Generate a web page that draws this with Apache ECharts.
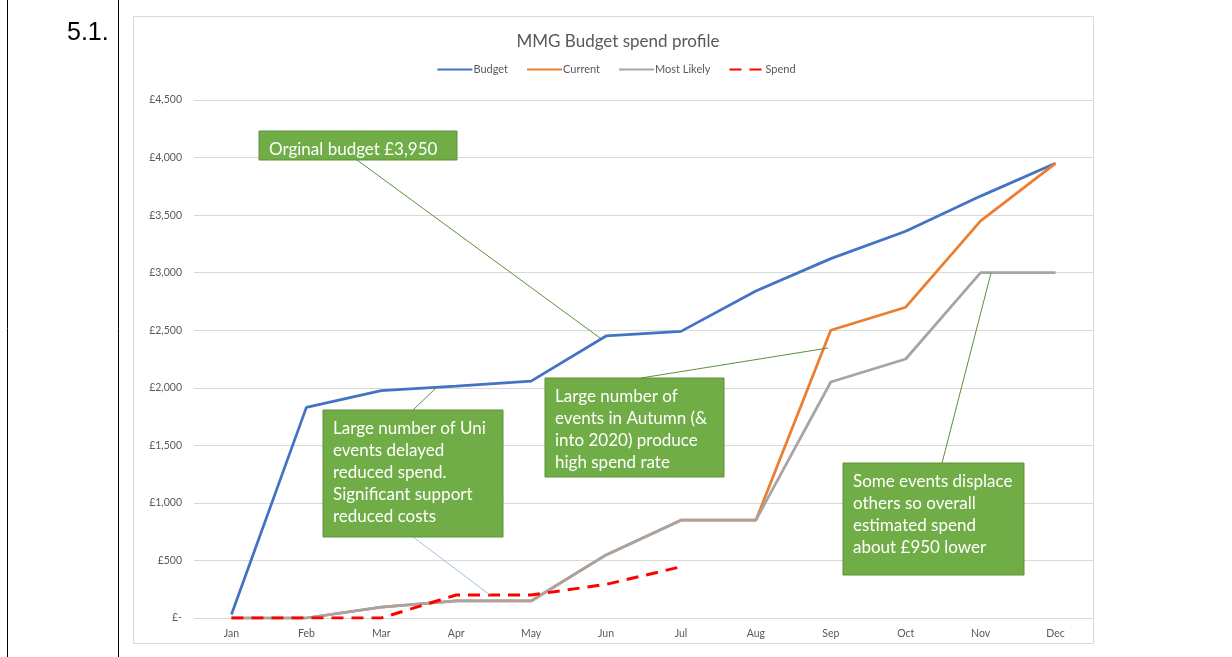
<!DOCTYPE html>
<html><head><meta charset="utf-8">
<script src="https://cdn.jsdelivr.net/npm/echarts@6/dist/echarts.min.js"></script>
<style>html,body{margin:0;padding:0;background:#fff}#c{width:1232px;height:657px}</style>
</head><body><div id="c"></div>
<script>
const months = ['Jan','Feb','Mar','Apr','May','Jun','Jul','Aug','Sep','Oct','Nov','Dec'];
const budget = [30, 1830, 1975, 2015, 2058, 2450, 2490, 2840, 3122, 3360, 3665, 3950];
const current = [0, 0, 95, 148, 148, 548, 850, 850, 2500, 2700, 3450, 3950];
const mostLikely = [0, 0, 95, 148, 148, 548, 850, 850, 2050, 2250, 3000, 3000];
const spend = [0, 0, 0, 200, 200, 292, 445, null, null, null, null, null];
const yTicks = { min: 0, max: 4500, interval: 500 };

const FONT = 'Lato, "Open Sans", sans-serif';
const GREEN = '#70AD47';

function box(x, y, w, h, lines) {
  return [
    { type: 'rect', shape: { x: x, y: y, width: w, height: h }, style: { fill: GREEN, stroke: '#5E8F3A', lineWidth: 1 }, z: 100 },
    { type: 'text', x: x + 10, y: y + 8, z: 101,
      style: { text: lines.join('\n'), fill: '#fff', font: '17px ' + FONT, lineHeight: 22 } }
  ];
}
function leader(x1, y1, x2, y2, color) {
  return { type: 'line', z: 99, shape: { x1: x1, y1: y1, x2: x2, y2: y2 }, style: { stroke: color || '#5E8F3A', lineWidth: 1 } };
}

const chart = echarts.init(document.getElementById('c'), null, { renderer: 'canvas' });
chart.setOption({
  animation: false,
  backgroundColor: '#fff',
  title: { text: 'MMG Budget spend profile', left: 613, textAlign: 'center', top: 28,
    textStyle: { fontSize: 17, fontWeight: 'normal', color: '#595959', fontFamily: FONT } },
  legend: { top: 59, left: 'center', itemWidth: 35, itemHeight: 10, itemGap: 18,
    itemStyle: { opacity: 0 },
    textStyle: { fontSize: 11, color: '#595959', fontFamily: FONT, padding: [0, 0, 0, -4] },
    data: ['Budget', 'Current', 'Most Likely', 'Spend'] },
  grid: { left: 194, right: 139, top: 100, bottom: 39 },
  xAxis: { type: 'category', data: months, boundaryGap: true,
    axisLine: { lineStyle: { color: '#D9D9D9' } }, axisTick: { show: false },
    axisLabel: { color: '#595959', fontSize: 10.5, fontFamily: FONT, margin: 10 } },
  yAxis: { type: 'value', min: yTicks.min, max: yTicks.max, interval: yTicks.interval,
    splitLine: { lineStyle: { color: '#D9D9D9' } }, axisLine: { show: false },
    axisLabel: { color: '#595959', fontSize: 10.5, fontFamily: FONT, margin: 12,
      formatter: v => v === 0 ? '£-' : '£' + v.toLocaleString('en-GB') } },
  series: [
    { name: 'Budget', type: 'line', data: budget, symbol: 'none', color: '#4472C4', lineStyle: { width: 2.75, color: '#4472C4' } },
    { name: 'Current', type: 'line', data: current, symbol: 'none', color: '#ED7D31', lineStyle: { width: 2.75, color: '#ED7D31' } },
    { name: 'Most Likely', type: 'line', data: mostLikely, symbol: 'none', color: '#A5A5A5', lineStyle: { width: 2.75, color: '#A5A5A5' } },
    { name: 'Spend', type: 'line', data: spend, symbol: 'none', color: '#FF0000', lineStyle: { width: 3, color: '#FF0000', type: [12, 8] } }
  ],
  graphic: [
    { type: 'line', shape: { x1: 7.5, y1: 0, x2: 7.5, y2: 657 }, style: { stroke: '#000', lineWidth: 1 } },
    { type: 'line', shape: { x1: 118.5, y1: 0, x2: 118.5, y2: 657 }, style: { stroke: '#000', lineWidth: 1 } },
    { type: 'text', x: 67, y: 21, style: { text: '5.1.', font: '25px "Liberation Sans", Arial, sans-serif', fill: '#000' } },
    { type: 'rect', shape: { x: 133.5, y: 16.5, width: 960, height: 627 }, style: { fill: 'none', stroke: '#D9D9D9', lineWidth: 1 }, z: -1 },
    leader(357, 160, 600, 338),
    leader(413, 410, 437, 387),
    leader(413, 537, 490, 595, '#9DC3E6'),
    leader(641, 378, 828, 348),
    leader(942, 463, 991, 273),
    ...box(259, 131, 198, 29, ['Orginal budget £3,950']),
    ...box(323, 410, 180, 127, ['Large number of Uni', 'events delayed', 'reduced spend.', 'Significant support', 'reduced costs']),
    ...box(545, 378, 179, 99, ['Large number of', 'events in Autumn (&', 'into 2020) produce', 'high spend rate']),
    ...box(843, 463, 181, 112, ['Some events displace', 'others so overall', 'estimated spend', 'about £950 lower'])
  ]
});
</script></body></html>
